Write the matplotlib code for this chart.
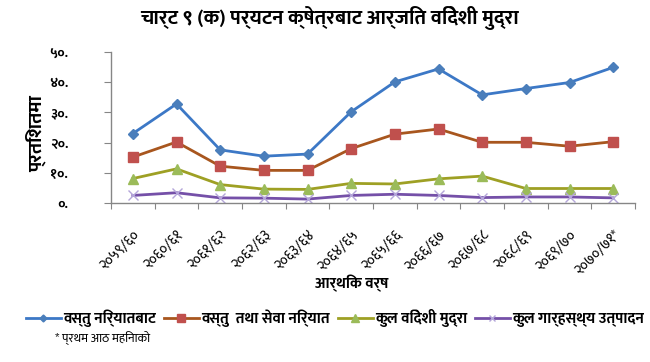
import matplotlib
matplotlib.use("Agg")
import matplotlib.pyplot as plt
from matplotlib import font_manager

# ---------------- data ----------------
categories = ["२०५९/६०", "२०६०/६१", "२०६१/६२", "२०६२/६३", "२०६३/६४", "२०६४/६५",
              "२०६५/६६", "२०६६/६७", "२०६७/६८", "२०६८/६९", "२०६९/७०", "२०७०/७१*"]
goods_exports = [23.0, 32.8, 17.6, 15.5, 16.2, 30.2, 40.1, 44.4, 35.8, 37.9, 39.9, 44.9]
goods_services = [15.2, 20.2, 12.2, 10.8, 10.8, 18.0, 22.8, 24.5, 20.1, 20.1, 18.8, 20.3]
total_forex = [8.1, 11.3, 6.1, 4.6, 4.5, 6.5, 6.3, 8.0, 8.9, 4.8, 4.8, 4.8]
gdp = [2.5, 3.4, 1.7, 1.6, 1.3, 2.5, 2.9, 2.5, 1.8, 2.0, 2.0, 1.7]
series_names = ["वस्तु निर्यातबाट", "वस्तु  तथा सेवा निर्यात", "कुल विदेशी मुद्रा", "कुल गार्हस्थ्य उत्पादन"]
y_ticks = [0, 10, 20, 30, 40, 50]
y_tick_labels = ["०.", "१०.", "२०.", "३०.", "४०.", "५०."]
title = "चार्ट ९ (क) पर्यटन क्षेत्रबाट आर्जित विदेशी मुद्रा"
x_label = "आर्थिक वर्ष"
y_label = "प्रतिशतमा"
footnote = "* प्रथम आठ महिनाको"

# ---------------- fonts ----------------
entries = font_manager.fontManager.ttflist
def has_bold(name):
    return any(f.name == name and (f.weight in ("bold", "heavy", "black") or
               (isinstance(f.weight, int) and f.weight >= 700)) for f in entries)
names = set(f.name for f in entries)
dev_font = "DejaVu Sans"
for cand in ["Mukta", "Hind", "Noto Sans Devanagari", "Yantramanav", "Martel Sans",
             "Poppins", "Anek Devanagari", "Akshar"]:
    if cand in names and has_bold(cand):
        dev_font = cand
        break
fam = [dev_font, "DejaVu Sans"]
plt.rcParams['font.family'] = fam

fig = plt.figure(figsize=(6.5, 3.62), dpi=100)
ax = fig.add_axes([111/650, 1-203/362, 524/650, 151/362])

x = [i + 0.5 for i in range(len(categories))]
ax.plot(x, goods_exports, color="#3C78C6", lw=2, marker="D", ms=5,
        mfc="#4A7EBB", mec="#4A7EBB", label=series_names[0])
ax.plot(x, goods_services, color="#A8561E", lw=2, marker="s", ms=7.5,
        mfc="#C0504D", mec="#C0504D", label=series_names[1])
ax.plot(x, total_forex, color="#9EA024", lw=2, marker="^", ms=7.5,
        mfc="#9BBB59", mec="#9BBB59", label=series_names[2])
ax.plot(x, gdp, color="#7550A8", lw=2, marker="x", ms=6.5, mew=1,
        mec="#B4A6DA", label=series_names[3])

ax.set_xlim(0, len(categories))
ax.set_ylim(0, 50)
ax.set_yticks(y_ticks)
ax.set_yticklabels(y_tick_labels, fontsize=10, fontweight="bold")
ax.set_xticks(range(len(categories) + 1))
ax.set_xticklabels([])
ax.set_xticks(x, minor=True)
ax.set_xticklabels(categories, minor=True, rotation=45, ha="right", va="top",
                   rotation_mode="anchor", fontsize=10.5)
ax.tick_params(axis="x", which="minor", length=0, pad=18)
ax.tick_params(axis="x", which="major", length=4, direction="out", color="#868686")
ax.tick_params(axis="y", length=5, direction="out", color="#868686", pad=26)

for s in ["top", "right"]:
    ax.spines[s].set_visible(False)
for s in ["left", "bottom"]:
    ax.spines[s].set_color("#868686")
    ax.spines[s].set_linewidth(1)

fig.text(330/650, 1-18/362, title, ha="center", va="center", fontsize=14.5, fontweight="bold")
fig.text(352/650, 1-283/362, x_label, ha="center", va="center", fontsize=11, fontweight="bold")
fig.text(36/650, 1-133/362, y_label, ha="center", va="center", rotation=90,
         fontsize=14, fontweight="bold")
fig.text(55/650, 1-338/362, footnote, ha="left", va="center", fontsize=9)

leg = fig.legend(loc="center", bbox_to_anchor=(335/650, 1-318/362), ncol=4, frameon=False,
                 prop={"family": fam, "weight": "bold", "size": 11},
                 handlelength=2.3, handletextpad=0.15, columnspacing=0.5, borderaxespad=0,
                 markerscale=0.7)

fig.savefig("out.png", dpi=100)
